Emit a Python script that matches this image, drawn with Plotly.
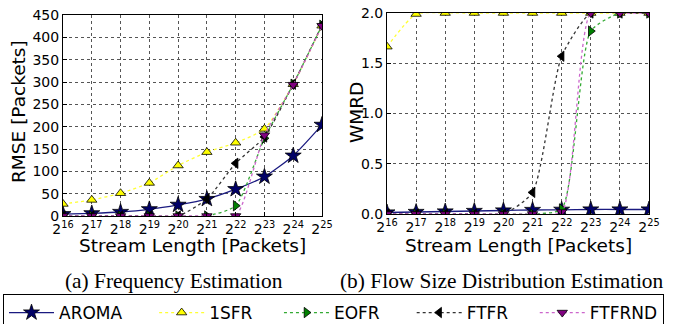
import plotly.graph_objects as go

# x positions: exponents of 2 (stream length = 2^n packets)
exponents = [16, 17, 18, 19, 20, 21, 22, 23, 24, 25]
tick_text = ["2<sup>%d</sup>" % e for e in exponents]

series_names = ["AROMA", "1SFR", "EOFR", "FTFR", "FTFRND"]

# (a) Frequency Estimation: RMSE [Packets]
rmse_aroma = [4, 6, 9, 15, 25, 38, 60, 88, 135, 204]
rmse_1sfr = [27, 36, 51, 74, 113, 143, 164, 195, 295, 426]
rmse_eofr = [0, 0, 0, 0, 0, 0, 23, 174, 295, 427]
rmse_ftfr = [0, 0, 0, 0, 0, 38, 118, 177, 295, 428]
rmse_ftfrnd = [0, 0, 0, 0, 0, 0, 0, 181, 294, 426]

# (b) Flow Size Distribution Estimation: WMRD
wmrd_aroma = [0.015, 0.02, 0.025, 0.03, 0.035, 0.04, 0.042, 0.045, 0.045, 0.045]
wmrd_1sfr = [1.665, 1.99, 2.0, 2.0, 2.0, 2.0, 2.0, 2.0, 2.0, 2.0]
wmrd_eofr = [0, 0, 0, 0, 0, 0, 0.05, 1.82, 2.0, 2.0]
wmrd_ftfr = [0, 0, 0, 0, 0, 0.215, 1.57, 2.0, 2.0, 2.0]
wmrd_ftfrnd = [0, 0, 0, 0, 0, 0, 0.02, 2.0, 2.0, 2.0]

left_vals = [rmse_aroma, rmse_1sfr, rmse_eofr, rmse_ftfr, rmse_ftfrnd]
right_vals = [wmrd_aroma, wmrd_1sfr, wmrd_eofr, wmrd_ftfr, wmrd_ftfrnd]

styles = [
    dict(line=dict(color="#1a1a80", width=1.3, dash="solid"),
         marker=dict(symbol="star", size=12, color="#000066", line=dict(color="black", width=0.8))),
    dict(line=dict(color="#ffff33", width=1.3, dash="dot"),
         marker=dict(symbol="triangle-up", size=9, color="#ffff00", line=dict(color="black", width=0.8))),
    dict(line=dict(color="#33aa33", width=1.3, dash="dot"),
         marker=dict(symbol="triangle-right", size=9, color="#008000", line=dict(color="black", width=0.8))),
    dict(line=dict(color="#333333", width=1.3, dash="dot"),
         marker=dict(symbol="triangle-left", size=9, color="#000000", line=dict(color="black", width=0.8))),
    dict(line=dict(color="#cc66cc", width=1.3, dash="dot"),
         marker=dict(symbol="triangle-down", size=9, color="#800080", line=dict(color="black", width=0.8))),
]
legend_pad = [5, 4, 5, 4, 0]

W, H = 678, 324

fig = go.Figure()
for i, name in enumerate(series_names):
    fig.add_trace(go.Scatter(
        x=exponents, y=left_vals[i], mode="lines+markers",
        name=name + "\u00a0" * legend_pad[i],
        line_shape="spline", line_smoothing=0.6,
        xaxis="x", yaxis="y", legendgroup=name, showlegend=True, **styles[i]))
for i, name in enumerate(series_names):
    fig.add_trace(go.Scatter(
        x=exponents, y=right_vals[i], mode="lines+markers", name=name,
        line_shape="spline", line_smoothing=0.6,
        xaxis="x2", yaxis="y2", legendgroup=name, showlegend=False, **styles[i]))

font_main = "DejaVu Sans"
axis_common = dict(
    showline=True, mirror=True, linecolor="black", linewidth=1,
    showgrid=True, gridcolor="#555555", griddash="dot", gridwidth=0.8,
    ticks="inside", ticklen=4, tickcolor="black", zeroline=False,
    tickfont=dict(family=font_main, size=14, color="black"),
)

fig.update_layout(
    width=W, height=H,
    margin=dict(l=0, r=0, t=0, b=0, autoexpand=False),
    paper_bgcolor="white", plot_bgcolor="white",
    font=dict(family=font_main, color="black"),
    xaxis=dict(domain=[63 / W, 322 / W], range=[16, 25], tickvals=exponents,
               ticktext=tick_text, anchor="y", **axis_common),
    yaxis=dict(domain=[1 - 216 / H, 1 - 15 / H], range=[0, 450],
               tickvals=list(range(0, 451, 50)), anchor="x", **axis_common),
    xaxis2=dict(domain=[387 / W, 649 / W], range=[16, 25], tickvals=exponents,
                ticktext=tick_text, anchor="y2", **axis_common),
    yaxis2=dict(domain=[1 - 214 / H, 1 - 13 / H], range=[0, 2.0],
                tickvals=[0, 0.5, 1.0, 1.5, 2.0], ticktext=["0.0", "0.5", "1.0", "1.5", "2.0"],
                anchor="x2", **axis_common),
    showlegend=True,
    legend=dict(orientation="h", x=3 / W, y=1 - 294 / H, xanchor="left", yanchor="top",
                bordercolor="black", borderwidth=1, bgcolor="white",
                font=dict(family=font_main, size=17, color="black"),
                itemwidth=45, traceorder="normal"),
)

ann_font = dict(family=font_main, size=18.5, color="black")
cap_font = dict(family="Liberation Serif", size=21.4, color="black")
annotations = [
    dict(text="Stream Length [Packets]", x=(63 + 322) / 2 / W, y=1 - 245 / H,
         xref="paper", yref="paper", showarrow=False, font=ann_font, xanchor="center", yanchor="middle"),
    dict(text="Stream Length [Packets]", x=(387 + 649) / 2 / W, y=1 - 245 / H,
         xref="paper", yref="paper", showarrow=False, font=ann_font, xanchor="center", yanchor="middle"),
    dict(text="RMSE [Packets]", x=18 / W, y=1 - 112 / H, textangle=-90,
         xref="paper", yref="paper", showarrow=False, font=ann_font, xanchor="center", yanchor="middle"),
    dict(text="WMRD", x=356 / W, y=1 - 113 / H, textangle=-90,
         xref="paper", yref="paper", showarrow=False, font=ann_font, xanchor="center", yanchor="middle"),
    dict(text="(a) Frequency Estimation", x=174 / W, y=1 - 281 / H,
         xref="paper", yref="paper", showarrow=False, font=cap_font, xanchor="center", yanchor="middle"),
    dict(text="(b) Flow Size Distribution Estimation", x=501.5 / W, y=1 - 281 / H,
         xref="paper", yref="paper", showarrow=False, font=cap_font, xanchor="center", yanchor="middle"),
]
fig.update_layout(annotations=annotations)

# remove the default 8px page margin so the 678x324 figure fills the window exactly
fig.write_html("out.html", config={"displayModeBar": False},
               post_script="document.body.style.margin='0px';")
